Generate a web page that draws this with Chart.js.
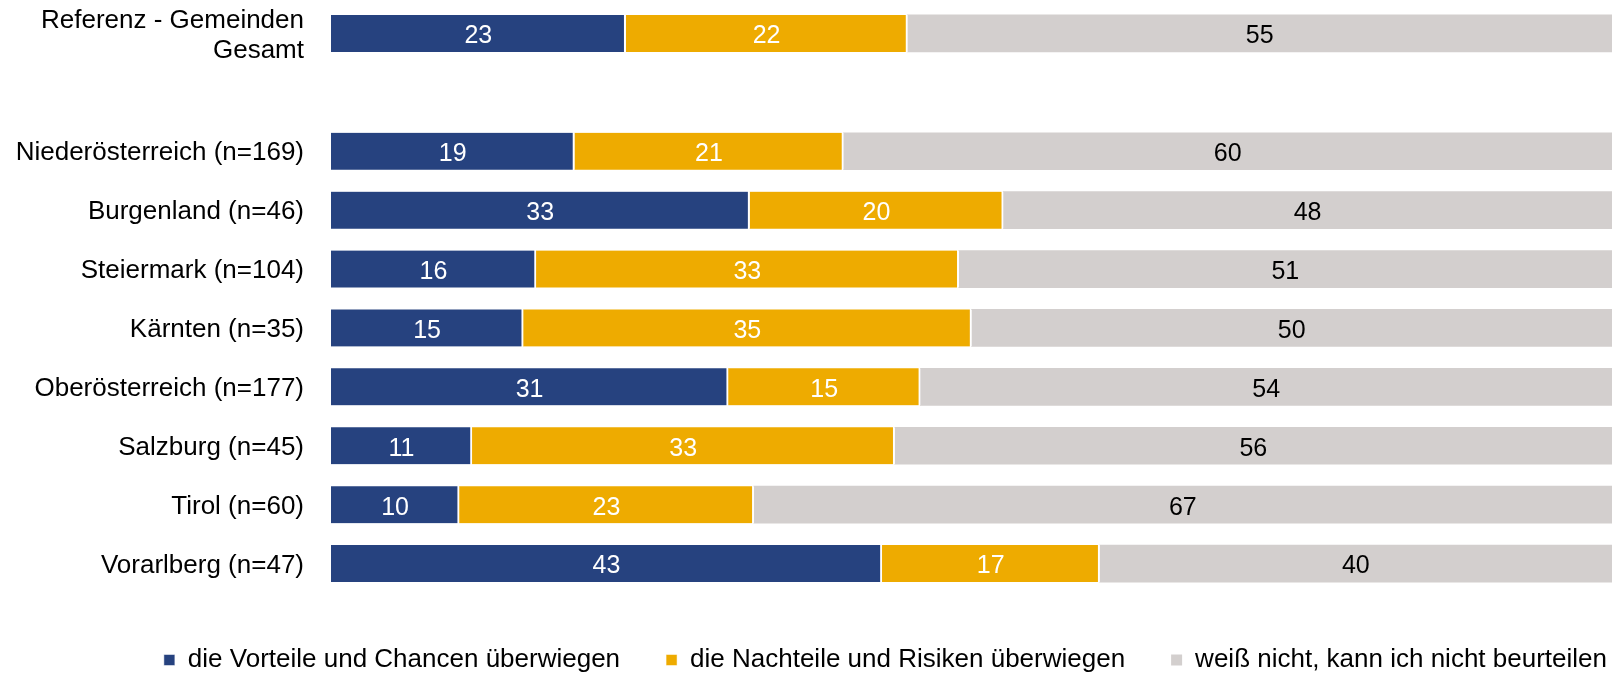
<!DOCTYPE html>
<html>
<head>
    <title>Vorteile und Nachteile - Bundesländer</title>
    <script src="https://cdn.jsdelivr.net/npm/chart.js"></script>
    <style>
        html, body {
            margin: 0;
            padding: 0;
            background: #fff;
        }
        #wrap {
            width: 1612px;
            height: 675px;
        }
    </style>
</head>
<body>
    <div id="wrap"><canvas id="chart"></canvas></div>

    <script>
        const categories = [
            ['Referenz - Gemeinden', 'Gesamt'],
            '',
            'Niederösterreich (n=169)',
            'Burgenland (n=46)',
            'Steiermark (n=104)',
            'Kärnten (n=35)',
            'Oberösterreich (n=177)',
            'Salzburg (n=45)',
            'Tirol (n=60)',
            'Vorarlberg (n=47)'
        ];
        const seriesNames = [
            'die Vorteile und Chancen überwiegen',
            'die Nachteile und Risiken überwiegen',
            'weiß nicht, kann ich nicht beurteilen'
        ];
        const vorteile   = [23, null, 19, 33, 16, 15, 31, 11, 10, 43];
        const nachteile  = [22, null, 21, 20, 33, 35, 15, 33, 23, 17];
        const weissNicht = [55, null, 60, 48, 51, 50, 54, 56, 67, 40];

        const FONT = '"Liberation Sans", Arial, sans-serif';

        // 100% stacked: every row is scaled to its own total (Burgenland adds up to 101)
        const totals = vorteile.map((v, i) => v == null ? null : v + nachteile[i] + weissNicht[i]);
        function share(arr) {
            return arr.map((v, i) => v == null ? null : v / totals[i] * 100);
        }
        const rawValues = [vorteile, nachteile, weissNicht];

        // value labels in the middle of each segment
        const segmentLabels = {
            id: 'segmentLabels',
            afterDatasetsDraw(chart) {
                const ctx = chart.ctx;
                ctx.save();
                ctx.font = '25px ' + FONT;
                ctx.textAlign = 'center';
                ctx.textBaseline = 'middle';
                chart.data.datasets.forEach((ds, d) => {
                    chart.getDatasetMeta(d).data.forEach((bar, i) => {
                        const v = rawValues[d][i];
                        if (v == null) return;
                        ctx.fillStyle = d < 2 ? '#ffffff' : '#000000';
                        ctx.fillText(String(v), (bar.x + bar.base) / 2, bar.y + 3);
                    });
                });
                ctx.restore();
            }
        };

        // move the legend row a bit down and to the right
        const legendShift = {
            id: 'legendShift',
            afterLayout(chart) {
                const lg = chart.legend;
                lg.top += 8;
                lg.bottom += 8;
                lg.left += 41;
                lg.right += 41;
            }
        };

        const sep = { top: 0, bottom: 0, left: 0, right: 2 };

        new Chart(document.getElementById('chart'), {
            type: 'bar',
            data: {
                labels: categories,
                datasets: [
                    { label: seriesNames[0], data: share(vorteile), backgroundColor: '#26427F', borderColor: '#ffffff', borderWidth: sep, borderSkipped: false },
                    { label: seriesNames[1], data: share(nachteile), backgroundColor: '#EEAB00', borderColor: '#ffffff', borderWidth: sep, borderSkipped: false },
                    { label: seriesNames[2], data: share(weissNicht), backgroundColor: '#D3CFCE', borderWidth: 0 }
                ]
            },
            options: {
                indexAxis: 'y',
                responsive: true,
                maintainAspectRatio: false,
                animation: false,
                barThickness: 37,
                layout: { padding: { top: 4, left: 0, right: 0, bottom: 0 } },
                scales: {
                    x: {
                        stacked: true,
                        min: 0,
                        max: 100,
                        display: false
                    },
                    y: {
                        stacked: true,
                        grid: { display: false, drawTicks: false },
                        border: { display: false },
                        ticks: {
                            autoSkip: false,
                            padding: 27,
                            labelOffset: 2,
                            color: '#000',
                            font: { family: FONT, size: 26, lineHeight: 1.15 }
                        },
                        afterFit(scale) {
                            scale.width = 331;
                            scale.paddingTop = 0;
                            scale.paddingBottom = 0;
                        }
                    }
                },
                plugins: {
                    tooltip: { enabled: false },
                    legend: {
                        position: 'bottom',
                        align: 'end',
                        labels: {
                            boxWidth: 11,
                            boxHeight: 11,
                            padding: 46,
                            color: '#000',
                            font: { family: FONT, size: 26 }
                        }
                    }
                }
            },
            plugins: [segmentLabels, legendShift]
        });
    </script>
</body>
</html>
